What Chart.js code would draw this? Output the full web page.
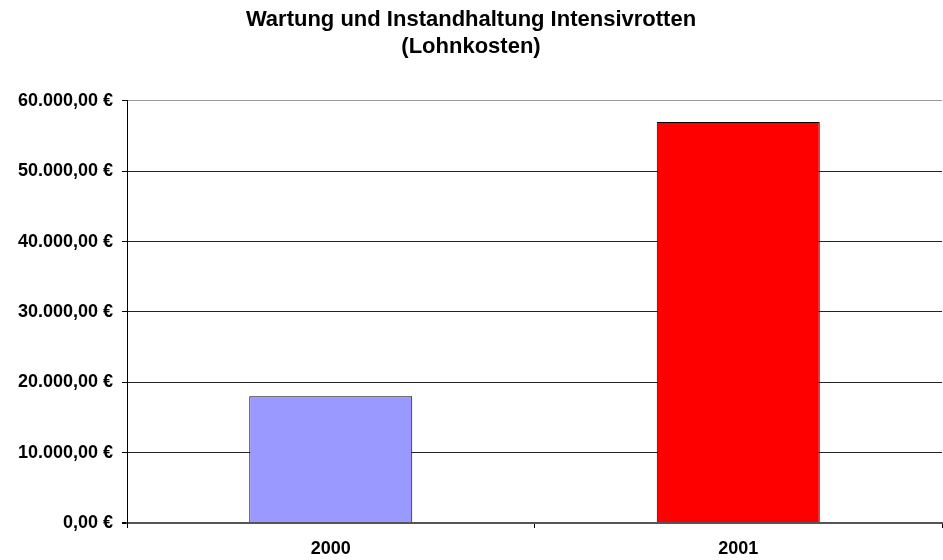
<!DOCTYPE html>
<html>
<head>
<meta charset="utf-8">
<script src="https://cdn.jsdelivr.net/npm/chart.js"></script>
<style>
  html, body { margin: 0; padding: 0; background: #ffffff; }
  #wrap { width: 943px; height: 560px; }
</style>
</head>
<body>
<div id="wrap"><canvas id="kostenChart"></canvas></div>
<script>
// Wartung und Instandhaltung Intensivrotten - Lohnkosten
const years = ['2000', '2001'];
const lohnkosten = [18000, 57000];
const barColors = ['#9999FF', '#FF0000'];
const titleLines = ['Wartung und Instandhaltung Intensivrotten', '(Lohnkosten)'];

const FONT = '"Liberation Sans", Arial, Helvetica, sans-serif';

// 60000 -> "60.000,00 €"
const formatEuro = (value) => {
    const parts = Math.round(value).toString().replace(/\B(?=(\d{3})+(?!\d))/g, '.');
    return parts + ',00 €';
};

const ctx = document.getElementById('kostenChart').getContext('2d');

const chart = new Chart(ctx, {
    type: 'bar',
    data: {
        labels: years,
        datasets: [
            {
                label: 'Lohnkosten',
                data: lohnkosten,
                backgroundColor: barColors,
                borderColor: '#000000',
                borderWidth: 1,
                borderSkipped: 'bottom',
                barPercentage: 0.4,
                categoryPercentage: 1.0
            }
        ]
    },
    options: {
        responsive: true,
        maintainAspectRatio: false,
        animation: false,
        layout: {
            padding: { left: 0, right: 1, top: 0, bottom: 0 }
        },
        plugins: {
            legend: { display: false },
            tooltip: { enabled: false },
            title: {
                display: true,
                text: titleLines,
                color: '#000000',
                font: { family: FONT, size: 22, weight: 'bold', lineHeight: 1.2 },
                padding: { top: 7, bottom: 41 }
            }
        },
        scales: {
            x: {
                grid: {
                    offset: true,
                    drawOnChartArea: false,
                    tickLength: 5,
                    tickColor: '#000000',
                    color: '#000000'
                },
                border: { display: true, color: '#555555', width: 2 },
                ticks: {
                    color: '#000000',
                    padding: 10,
                    font: { family: FONT, size: 18, weight: 'bold' }
                },
                afterFit: function(scale) {
                    scale.height = 37;
                }
            },
            y: {
                min: 0,
                max: 60000,
                grid: {
                    color: function(c) {
                        if (c.tick && c.tick.value === 60000) return '#999999';
                        if (c.tick && c.tick.value === 0) return '#555555';
                        return '#222222';
                    },
                    lineWidth: function(c) {
                        return (c.tick && c.tick.value === 0) ? 2 : 1;
                    },
                    tickColor: '#000000',
                    tickLength: 5
                },
                border: { display: true, color: '#000000', width: 1 },
                ticks: {
                    stepSize: 10000,
                    color: '#000000',
                    padding: 9,
                    font: { family: FONT, size: 18, weight: 'bold' },
                    callback: function(value) {
                        return formatEuro(value);
                    }
                },
                afterFit: function(scale) {
                    scale.width = 127;
                }
            }
        }
    }
});
</script>
</body>
</html>
